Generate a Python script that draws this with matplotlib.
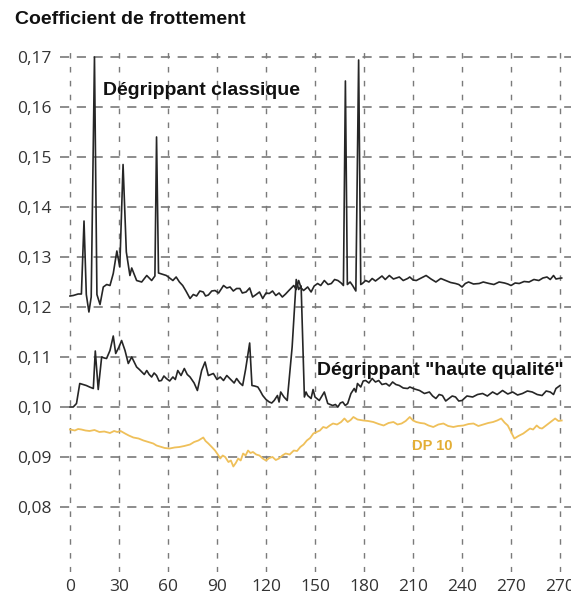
import matplotlib
matplotlib.use("Agg")
import matplotlib.pyplot as plt

# tick labels (the last one really reads 270 twice on the original)
xticks = [0, 30, 60, 90, 120, 150, 180, 210, 240, 270, 300]
xlabels = ["0", "30", "60", "90", "120", "150", "180", "210", "240", "270", "270"]
yticks = [0.08, 0.09, 0.10, 0.11, 0.12, 0.13, 0.14, 0.15, 0.16, 0.17]
ylabels = ["0,08", "0,09", "0,10", "0,11", "0,12", "0,13", "0,14", "0,15", "0,16", "0,17"]

# Degrippant classique
classique_x = [0, 2, 5, 7, 8.6, 10, 11.6, 13, 15, 16.5, 18.4, 20.4, 22.5, 24.5, 26.5, 28.7, 30.5, 32.5, 34.5,
               36.7, 37.8, 40.8, 43.9, 47, 50, 52, 53, 54.2, 57, 59, 61, 63, 65, 67, 69, 71, 73.5, 75.5, 77.5,
               79.5, 81.6, 83, 84.7, 86.8, 88.8, 91, 94, 96, 98, 100, 102, 104, 105.5, 107.8, 110, 111.8, 114,
               116, 118, 120, 122, 124, 126, 128, 130, 132, 134, 137, 138.5, 140, 141.5, 143, 145.5, 147.6,
               149.5, 151.6, 153.5, 155.7, 158, 160, 162, 164, 166, 167.4, 168.6, 169.8, 171.5, 173, 175,
               176.7, 178, 179, 181, 183, 185, 187, 189, 191, 193, 195.5, 198, 201.6, 204, 206.7, 208, 210,
               212, 215, 218, 221, 224, 227, 230, 233, 236, 238, 240, 242, 244, 247, 250.5, 253, 256.6, 259.5,
               262.7, 266, 268, 270, 272.5, 275, 278, 281, 284, 287, 289.5, 292, 294, 296, 297.5, 299, 301]
classique_y = [0.1222, 0.1223, 0.1226, 0.1226, 0.1372, 0.1225, 0.1190, 0.1220, 0.1700, 0.1225, 0.1205, 0.1240,
               0.1245, 0.1243, 0.1267, 0.1312, 0.1280, 0.1485, 0.1310, 0.1263, 0.1278, 0.1253, 0.1250, 0.1263,
               0.1253, 0.1262, 0.1540, 0.1268, 0.1265, 0.1263, 0.1258, 0.1253, 0.1260, 0.1250, 0.1243, 0.1232,
               0.1217, 0.1225, 0.1222, 0.1232, 0.1230, 0.1222, 0.1224, 0.1232, 0.1233, 0.1228, 0.1243, 0.1238,
               0.1240, 0.1232, 0.1237, 0.1237, 0.1228, 0.1230, 0.1238, 0.1220, 0.1225, 0.1230, 0.1217, 0.1228,
               0.1227, 0.1232, 0.1223, 0.1228, 0.1220, 0.1226, 0.1233, 0.1243, 0.1235, 0.1253, 0.1238, 0.1233,
               0.1240, 0.1230, 0.1242, 0.1247, 0.1243, 0.1253, 0.1245, 0.1247, 0.1255, 0.1253, 0.1248, 0.1243,
               0.1652, 0.1245, 0.1250, 0.1243, 0.1232, 0.1694, 0.1245, 0.1247, 0.1253, 0.1250, 0.1257, 0.1252,
               0.1257, 0.1262, 0.1255, 0.1263, 0.1256, 0.1260, 0.1253, 0.1257, 0.1260, 0.1254, 0.1253, 0.1258,
               0.1263, 0.1256, 0.1250, 0.1257, 0.1253, 0.1249, 0.1247, 0.1245, 0.1240, 0.1247, 0.1250, 0.1246,
               0.1247, 0.1250, 0.1247, 0.1245, 0.1250, 0.1248, 0.1246, 0.1243, 0.1248, 0.1247, 0.1251, 0.1250,
               0.1255, 0.1253, 0.1258, 0.1260, 0.1255, 0.1263, 0.1256, 0.1257, 0.1258]

# Degrippant "haute qualite"
haute_x = [0, 2, 4, 6, 8, 10, 12, 14.3, 15.5, 17.3, 19.4, 21, 22.4, 24.5, 26.5, 28, 30, 31.6, 33.7, 35.7, 37.8,
           39.3, 40.8, 42.5, 44, 45.5, 47, 48.5, 50, 51.5, 53, 54.5, 56, 57.5, 59, 61, 63, 64.5, 66, 68, 70,
           71.8, 73.5, 76, 78, 80.6, 82.7, 84.7, 86.2, 87.8, 90, 92, 94, 96, 97.5, 99, 100.5, 102, 104, 105.7,
           107.5, 110, 111.4, 113, 115, 116.5, 118, 120, 122, 123.5, 125, 127, 128, 129, 131, 133, 136, 138.5,
           140, 141.5, 143.5, 144.5, 145.5, 147.6, 148.8, 150, 152.6, 155.7, 157.8, 160.8, 162.5, 164, 165.5,
           167, 168.5, 170, 172, 174, 175, 176, 178, 179.5, 181, 183, 185, 187, 189, 191, 193.5, 195.5, 197.5,
           199.5, 201.6, 204, 206.7, 208, 211, 214, 217, 220, 222, 224, 226, 228, 230, 232, 234, 236, 238, 240,
           243, 246.5, 249.5, 252.6, 255.5, 258.7, 261.5, 264.8, 268, 271, 274, 277, 280, 283, 286, 289, 291.5,
           294, 296, 297.5, 300]
haute_y = [0.1000, 0.1000, 0.1007, 0.1047, 0.1045, 0.1043, 0.1040, 0.1037, 0.1112, 0.1035, 0.1100, 0.1098,
           0.1097, 0.1113, 0.1142, 0.1107, 0.1120, 0.1133, 0.1113, 0.1087, 0.1100, 0.1090, 0.1080, 0.1075,
           0.1070, 0.1065, 0.1073, 0.1065, 0.1060, 0.1068, 0.1063, 0.1052, 0.1053, 0.1062, 0.1057, 0.1052,
           0.1060, 0.1055, 0.1073, 0.1063, 0.1077, 0.1065, 0.1060, 0.1048, 0.1033, 0.1073, 0.1090, 0.1063,
           0.1065, 0.1067, 0.1055, 0.1060, 0.1053, 0.1063, 0.1058, 0.1053, 0.1048, 0.1057, 0.1048, 0.1043,
           0.1075, 0.1128, 0.1043, 0.1042, 0.1040, 0.1032, 0.1023, 0.1015, 0.1010, 0.1008, 0.1013, 0.1023,
           0.1010, 0.1030, 0.1020, 0.1013, 0.1120, 0.1255, 0.1235, 0.1242, 0.1020, 0.1030, 0.1023, 0.1017,
           0.1035, 0.1020, 0.1013, 0.1030, 0.1007, 0.1003, 0.1005, 0.1000, 0.1008, 0.1010, 0.1003, 0.1007,
           0.1027, 0.1037, 0.1030, 0.1047, 0.1040, 0.1052, 0.1053, 0.1048, 0.1057, 0.1050, 0.1053, 0.1045,
           0.1047, 0.1042, 0.1050, 0.1045, 0.1043, 0.1038, 0.1037, 0.1040, 0.1036, 0.1033, 0.1027, 0.1030,
           0.1022, 0.1017, 0.1025, 0.1023, 0.1012, 0.1017, 0.1022, 0.1020, 0.1012, 0.1013, 0.1022, 0.1020,
           0.1025, 0.1027, 0.1022, 0.1030, 0.1025, 0.1033, 0.1026, 0.1030, 0.1024, 0.1027, 0.1032, 0.1030,
           0.1025, 0.1023, 0.1032, 0.1030, 0.1025, 0.1037, 0.1043]

# DP 10
dp10_x = [0, 3, 5, 7, 9.5, 12, 15, 18, 21, 24.5, 27, 29, 31, 33.7, 36, 38.8, 42, 45, 48, 51, 53, 55, 58, 61, 64,
          67, 70, 73.5, 76, 78.6, 81.6, 83, 84.7, 86.8, 88.8, 90.5, 92, 93.5, 95, 97, 98.5, 100, 101.5, 103,
          104.5, 106, 107.5, 109, 110.5, 112, 114, 116, 118, 120, 122, 124, 126, 128, 130, 132, 134.5, 137,
          139, 141, 143, 145, 147, 149, 151, 153, 155, 157, 159, 161, 163.5, 166, 168, 170, 171.8, 173.5, 176,
          179.6, 182.5, 185.7, 189, 192, 195, 198, 200.5, 203, 205.5, 208, 210, 212, 214.5, 217, 219.5, 222.4,
          225.5, 228.6, 231.5, 234.7, 237.5, 240.8, 244, 247, 250, 253, 256, 259, 261.5, 264, 266, 268, 270,
          272, 274.5, 277.5, 279.5, 281.6, 283.5, 285.7, 287.5, 289, 291, 293, 295, 297, 299, 301]
dp10_y = [0.0955, 0.0953, 0.0956, 0.0955, 0.0953, 0.0952, 0.0954, 0.0950, 0.0951, 0.0948, 0.0952, 0.0950,
          0.0952, 0.0947, 0.0943, 0.0939, 0.0937, 0.0933, 0.0930, 0.0927, 0.0923, 0.0921, 0.0918, 0.0917,
          0.0919, 0.0920, 0.0922, 0.0925, 0.0930, 0.0933, 0.0939, 0.0932, 0.0927, 0.0920, 0.0913, 0.0905,
          0.0897, 0.0903, 0.0900, 0.0890, 0.0893, 0.0881, 0.0888, 0.0897, 0.0893, 0.0907, 0.0903, 0.0913,
          0.0908, 0.0910, 0.0905, 0.0903, 0.0897, 0.0893, 0.0898, 0.0900, 0.0894, 0.0897, 0.0903, 0.0907,
          0.0905, 0.0913, 0.0912, 0.0920, 0.0925, 0.0933, 0.0938, 0.0947, 0.0950, 0.0953, 0.0960, 0.0958,
          0.0963, 0.0967, 0.0965, 0.0970, 0.0977, 0.0970, 0.0974, 0.0980, 0.0975, 0.0973, 0.0972, 0.0970,
          0.0966, 0.0963, 0.0968, 0.0970, 0.0965, 0.0967, 0.0972, 0.0980, 0.0973, 0.0970, 0.0968, 0.0967,
          0.0963, 0.0960, 0.0965, 0.0967, 0.0962, 0.0960, 0.0962, 0.0963, 0.0966, 0.0967, 0.0962, 0.0965,
          0.0968, 0.0970, 0.0973, 0.0977, 0.0969, 0.0963, 0.0950, 0.0937, 0.0942, 0.0947, 0.0952, 0.0957,
          0.0955, 0.0963, 0.0958, 0.0957, 0.0962, 0.0967, 0.0972, 0.0977, 0.0972, 0.0973]

fig = plt.figure(figsize=(5.71, 5.97), dpi=100)
ax = fig.add_axes([60 / 571, 25 / 597, 1 - 60 / 571, 527 / 597])

ax.plot(classique_x, classique_y, color="#262626", lw=1.2)
ax.plot(haute_x, haute_y, color="#262626", lw=1.2)
ax.plot(dp10_x, dp10_y, color="#EFC05A", lw=1.3)

ax.set_xlim(-6.1, 306.7)
ax.set_ylim(0.067, 0.1724)
ax.set_xticks(xticks)
ax.set_xticklabels(xlabels)
ax.set_yticks(yticks)
ax.set_yticklabels(ylabels)
ax.tick_params(length=0, labelsize=12.5, labelcolor="#333333")
ax.tick_params(axis="y", pad=6)
ax.tick_params(axis="x", pad=5)
for lab in ax.get_xticklabels() + ax.get_yticklabels():
    lab.set_family("Open Sans")

for s in ax.spines.values():
    s.set_visible(False)

# dashed grid, horizontal dashes longer than vertical ones
for yv in yticks:
    ax.axhline(yv, color="#6e6e6e", lw=1.1, dashes=(6, 5), zorder=0)
for xv in xticks:
    ax.axvline(xv, color="#7a7a7a", lw=1.0, dashes=(4, 6), zorder=0)

ax.text(20, 0.1634, "Dégrippant classique", fontsize=14, fontweight="bold",
        family="Liberation Sans", va="center", ha="left", color="#111111")
ax.text(151.5, 0.1074, "Dégrippant \"haute qualité\"", fontsize=14, fontweight="bold",
        family="Liberation Sans", va="center", ha="left", color="#111111")
ax.text(222, 0.0923, "DP 10", fontsize=10.5, fontweight="bold",
        family="Liberation Sans", va="center", ha="center", color="#E3AE35")

fig.text(15 / 571, 1 - 19 / 597, "Coefficient de frottement", fontsize=14, fontweight="bold",
         family="Liberation Sans", va="center", ha="left", color="#111111")

fig.savefig("out.png", dpi=100)
